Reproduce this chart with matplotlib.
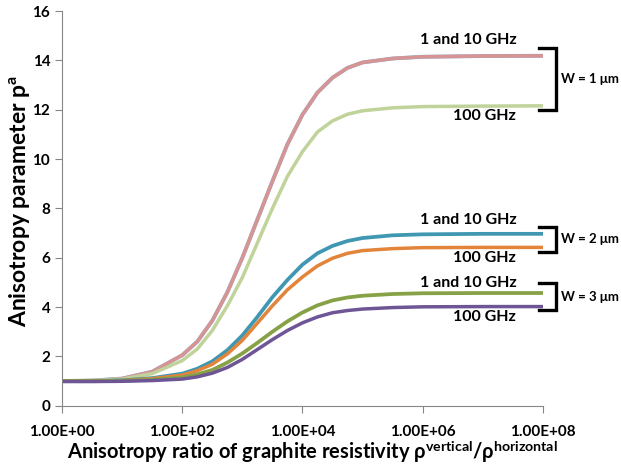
import matplotlib
matplotlib.use("Agg")
import matplotlib.pyplot as plt
import numpy as np

plt.rcParams['font.family'] = ['Lato', 'DejaVu Sans']
plt.rcParams['font.weight'] = 'bold'
plt.rcParams['axes.labelweight'] = 'bold'
plt.rcParams['mathtext.fontset'] = 'custom'
plt.rcParams['mathtext.rm'] = 'Lato:bold'
plt.rcParams['mathtext.it'] = 'Lato:bold'
plt.rcParams['mathtext.bf'] = 'Lato:bold'

# x positions in decades of the resistivity ratio
decades = [0, 0.5, 1, 1.5, 2, 2.25, 2.5, 2.75, 3, 3.25, 3.5, 3.75, 4,
           4.25, 4.5, 4.75, 5, 5.5, 6, 7, 8]

# W = 1 um
w1_low = [1.0, 1.02, 1.1, 1.38, 2.05, 2.6, 3.45, 4.6, 6.0, 7.55, 9.1, 10.6, 11.8,
          12.7, 13.3, 13.7, 13.92, 14.08, 14.15, 14.18, 14.19]
w1_100 = [1.0, 1.02, 1.08, 1.3, 1.83, 2.3, 3.05, 4.05, 5.2, 6.6, 8.0, 9.3, 10.3,
          11.1, 11.55, 11.82, 11.96, 12.08, 12.13, 12.15, 12.16]
# W = 2 um
w2_low = [1.0, 1.0, 1.03, 1.12, 1.3, 1.5, 1.8, 2.25, 2.85, 3.6, 4.4, 5.1, 5.72,
          6.18, 6.48, 6.68, 6.8, 6.91, 6.95, 6.97, 6.97]
w2_100 = [1.0, 1.0, 1.02, 1.1, 1.24, 1.42, 1.68, 2.1, 2.65, 3.35, 4.05, 4.7, 5.22,
          5.67, 5.98, 6.18, 6.29, 6.37, 6.41, 6.42, 6.42]
# W = 3 um
w3_low = [1.0, 1.0, 1.01, 1.06, 1.15, 1.27, 1.45, 1.75, 2.12, 2.55, 3.0, 3.42, 3.78,
          4.07, 4.27, 4.39, 4.46, 4.53, 4.56, 4.57, 4.57]
w3_100 = [0.98, 0.98, 0.99, 1.02, 1.08, 1.17, 1.32, 1.55, 1.88, 2.28, 2.68, 3.05, 3.36,
          3.6, 3.77, 3.86, 3.92, 3.98, 4.01, 4.02, 4.02]

xticks = [1e0, 1e2, 1e4, 1e6, 1e8]
xticklabels = ["1.00E+00", "1.00E+02", "1.00E+04", "1.00E+06", "1.00E+08"]

x = 10.0 ** np.array(decades)

fig = plt.figure(figsize=(6.21, 4.65), dpi=100)
ax = fig.add_axes([0.1, 0.1275, 0.774, 0.8485])

ax.plot(x, w1_low, color='#8EA9D1', lw=2.8)
ax.plot(x, w1_low, color='#D69593', lw=2.5)
ax.plot(x, w1_100, color='#BFD39A', lw=2.5)
ax.plot(x, w2_low, color='#3F97B2', lw=2.7)
ax.plot(x, w2_100, color='#E2843A', lw=2.5)
ax.plot(x, w3_low, color='#86A146', lw=2.7)
ax.plot(x, w3_100, color='#6E5596', lw=2.5)

ax.set_xscale('log')
ax.set_xlim(1, 1e8)
ax.set_ylim(0, 16)
ax.set_xticks(xticks)
ax.set_xticklabels(xticklabels)
ax.minorticks_off()
ax.set_yticks(range(0, 17, 2))

for s in ['top', 'right']:
    ax.spines[s].set_visible(False)
for s in ['left', 'bottom']:
    ax.spines[s].set_color('#868686')
ax.tick_params(colors='#868686', length=5, labelcolor='black', labelsize=11)
ax.tick_params(axis='x', pad=9)

ax.set_ylabel(r"Anisotropy parameter p$^{\rm a}$", fontsize=16.5)
ax.yaxis.set_label_coords(-0.062, 0.52)
ax.set_xlabel(r"Anisotropy ratio of graphite resistivity ρ$^{\rm vertical}$/ρ$^{\rm horizontal}$",
              fontsize=14.5)
ax.xaxis.set_label_coords(0.52, -0.083)

# curve labels
lab_x_hi = 10 ** 7.56
lab_x_lo = 10 ** 7.03
for y_hi, y_lo in [(14.84, 11.75), (7.53, 5.99), (4.98, 3.6)]:
    ax.text(lab_x_hi, y_hi, "1 and 10 GHz", ha='right', va='center', fontsize=11.5)
    ax.text(lab_x_lo, y_lo, "100 GHz", ha='center', va='center', fontsize=11.5)

# brackets
bx0, bx1 = 10 ** 7.94, 10 ** 8.22
for top, bot, label in [(14.5, 12.0, "W = 1 μm"), (7.26, 6.25, "W = 2 μm"),
                        (4.97, 3.88, "W = 3 μm")]:
    ax.plot([bx0, bx1, bx1, bx0], [top, top, bot, bot], color='black', lw=2.4,
            clip_on=False, solid_joinstyle='miter')
    ax.text(10 ** 8.3, (top + bot) / 2, label, ha='left', va='center', fontsize=9.5,
            clip_on=False)

fig.savefig("out.png", dpi=100)
